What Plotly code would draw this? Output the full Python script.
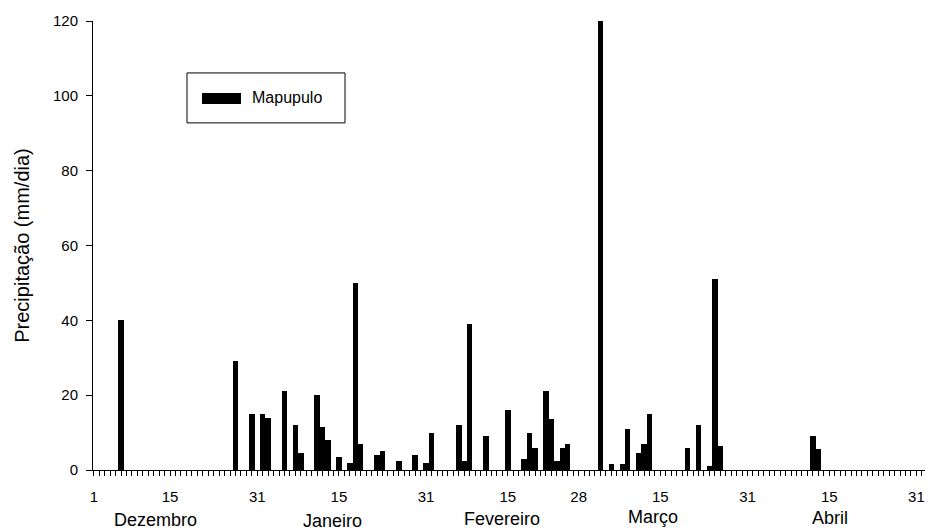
import plotly.graph_objects as go

# Dia (índice a partir de 1 de Dezembro) e precipitação diária (mm/dia)
dias = [5, 26, 29, 31, 32, 35, 37, 38, 41, 42, 43, 45, 47, 48, 49, 52, 53, 56, 59, 61,
        62, 67, 68, 69, 72, 76, 79, 80, 81, 83, 84, 85, 86, 87, 93, 95, 97, 98, 100, 101,
        102, 109, 111, 113, 114, 115, 132, 133]
precipitacao = [40, 29, 15, 15, 14, 21, 12, 4.5, 20, 11.5, 8, 3.5, 2, 50, 7, 4, 5, 2.5, 4, 2,
                10, 12, 2.5, 39, 9, 16, 3, 10, 6, 21, 13.5, 2.5, 6, 7, 120, 1.5, 1.5, 11, 4.5, 7,
                15, 6, 12, 1, 51, 6.5, 9, 5.5]
tick_dias = [0, 14, 30, 45, 61, 76, 89, 104, 120, 135, 151]
tick_rotulos = ["1", "15", "31", "15", "31", "15", "28", "15", "31", "15", "31"]
meses = ["Dezembro", "Janeiro", "Fevereiro", "Março", "Abril"]
y_ticks = [0, 20, 40, 60, 80, 100, 120]
serie = "Mapupulo"

FONT = "Liberation Sans, Arial, Helvetica, sans-serif"

fig = go.Figure()
fig.add_trace(go.Bar(
    x=dias, y=precipitacao, name=serie, width=1.0,
    marker=dict(color="black", line=dict(width=0)),
    showlegend=False,
))

# month label placement (layout)
mes_x = [11.4, 43.9, 74.9, 102.6, 135.1]
mes_y = [-0.1114, -0.1136, -0.1091, -0.1047, -0.1069]
for m, xm, ym in zip(meses, mes_x, mes_y):
    fig.add_annotation(text=m, x=xm, xref="x", y=ym, yref="paper",
                       showarrow=False, xanchor="center", yanchor="middle",
                       font=dict(family=FONT, size=18, color="black"))

# legend box (drawn to match the reference's legend geometry)
fig.add_shape(type="rect", xref="paper", yref="paper",
              x0=0.1123, x1=0.3011, y0=0.7731, y1=0.8843,
              line=dict(color="black", width=1), fillcolor="white", layer="above")
fig.add_shape(type="rect", xref="paper", yref="paper",
              x0=0.1302, x1=0.1768, y0=0.8153, y1=0.8398,
              line=dict(width=0), fillcolor="black", layer="above")
fig.add_annotation(text=serie, xref="paper", yref="paper", x=0.1876, y=0.8287,
                   xanchor="left", yanchor="middle", showarrow=False,
                   font=dict(family=FONT, size=16, color="black"))

fig.update_layout(
    width=925, height=524,
    margin=dict(l=85, r=3, t=13, b=62, pad=0),
    plot_bgcolor="white", paper_bgcolor="white",
    font=dict(family=FONT, size=15, color="black"),
    bargap=0,
    showlegend=False,
    xaxis=dict(
        range=[-0.15, 153.5],
        tickmode="array", tickvals=tick_dias, ticktext=tick_rotulos,
        ticks="outside", ticklen=5, tickwidth=1, tickcolor="black",
        showline=True, linecolor="black", linewidth=1,
        showgrid=False, zeroline=False,
        ticklabelstandoff=8,
        minor=dict(tickmode="linear", tick0=0, dtick=1, ticks="outside",
                   ticklen=5, tickwidth=1, tickcolor="black"),
        tickfont=dict(family=FONT, size=15, color="black"),
    ),
    yaxis=dict(
        range=[0, 120],
        tickmode="array", tickvals=y_ticks,
        ticks="outside", ticklen=6, tickwidth=1, tickcolor="black",
        showline=True, linecolor="black", linewidth=1,
        showgrid=False, zeroline=False,
        ticklabelstandoff=5,
        tickfont=dict(family=FONT, size=15, color="black"),
        title=dict(text="Precipitação (mm/dia)", standoff=17,
                   font=dict(family=FONT, size=20, color="black")),
    ),
)

fig.write_html("out.html")
